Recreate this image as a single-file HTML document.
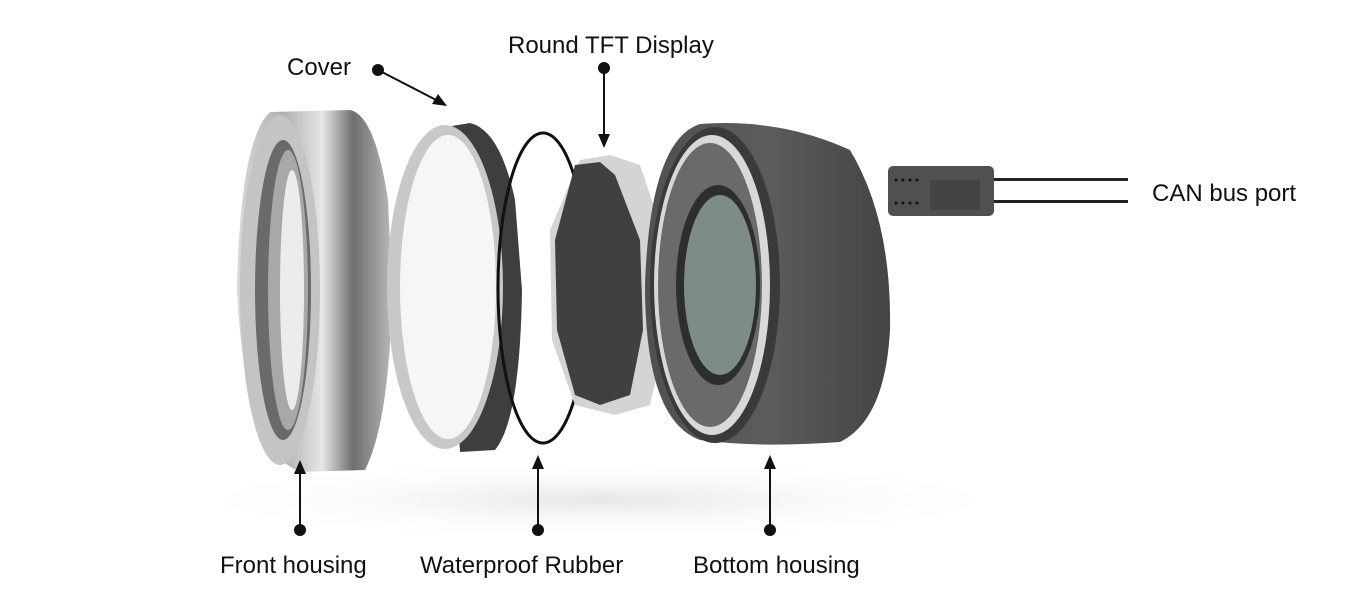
<!DOCTYPE html>
<html><head><style>
body{margin:0;background:#fff;width:1365px;height:600px;overflow:hidden}
svg{display:block}
text{font-family:"Liberation Sans",sans-serif;font-size:24px;fill:#111}
</style></head><body>
<svg width="1365" height="600" viewBox="0 0 1365 600">
<defs>
<linearGradient id="metal" x1="0" x2="1">
<stop offset="0" stop-color="#d8d8d8"/><stop offset=".3" stop-color="#b0b0b0"/><stop offset=".55" stop-color="#e6e6e6"/><stop offset=".75" stop-color="#6e6e6e"/><stop offset="1" stop-color="#b8b8b8"/>
</linearGradient>
<linearGradient id="dark" x1="0" x2="1">
<stop offset="0" stop-color="#505050"/><stop offset=".5" stop-color="#5c5c5c"/><stop offset="1" stop-color="#444"/>
</linearGradient>
<radialGradient id="shadow" cx=".5" cy=".5" r=".5">
<stop offset="0" stop-color="#e6e6e6"/><stop offset="1" stop-color="#fff" stop-opacity="0"/>
</radialGradient>
</defs>
<ellipse cx="600" cy="500" rx="430" ry="40" fill="url(#shadow)"/>
<!-- Front housing -->
<path d="M270 112 L350 110 Q375 115 388 200 L392 290 Q390 420 365 470 L300 472 Q245 450 237 290 Q240 140 270 112 Z" fill="url(#metal)"/>
<ellipse cx="280" cy="290" rx="40" ry="175" fill="#c4c4c4"/>
<ellipse cx="283" cy="290" rx="28" ry="150" fill="#6a6a6a"/>
<ellipse cx="288" cy="290" rx="20" ry="140" fill="#a8a8a8"/>
<ellipse cx="292" cy="290" rx="12" ry="120" fill="#ececec"/>
<!-- Cover -->
<path d="M440 128 L470 123 Q500 130 515 200 L522 290 Q520 420 495 450 L460 452 Z" fill="#3e3e3e"/>
<ellipse cx="445" cy="287" rx="58" ry="162" fill="#c8c8c8"/>
<ellipse cx="448" cy="287" rx="48" ry="152" fill="#f6f6f6"/>
<!-- Rubber -->
<ellipse cx="543" cy="288" rx="45" ry="155" fill="none" stroke="#111" stroke-width="3"/>
<!-- Display -->
<path d="M580 160 L610 155 L640 165 L662 230 L665 340 L650 405 L615 415 L575 405 L552 340 L550 230 Z" fill="#d4d4d4"/>
<path d="M575 165 L600 162 L615 175 L640 240 L643 330 L630 395 L600 405 L575 395 L557 330 L555 240 Z" fill="#404040"/>
<!-- Bottom housing -->
<path d="M700 124 Q780 118 850 150 Q892 220 890 330 Q885 420 840 442 Q760 448 700 440 Q645 420 645 285 Q650 140 700 124 Z" fill="url(#dark)"/>
<ellipse cx="715" cy="285" rx="65" ry="158" fill="#3a3a3a"/>
<ellipse cx="712" cy="285" rx="58" ry="150" fill="#d8d8d8"/>
<ellipse cx="710" cy="285" rx="52" ry="142" fill="#6a6a6a"/>
<ellipse cx="718" cy="285" rx="42" ry="100" fill="#2e2e2e"/>
<ellipse cx="720" cy="285" rx="36" ry="90" fill="#7d8c85"/>
<!-- Connector -->
<rect x="888" y="166" width="106" height="50" rx="5" fill="#505050"/>
<rect x="930" y="180" width="50" height="30" fill="#444"/>
<rect x="994" y="178" width="134" height="3" fill="#222"/>
<rect x="994" y="200" width="134" height="3" fill="#222"/>
<g fill="#111"><circle cx="896" cy="180" r="1.5"/><circle cx="903" cy="180" r="1.5"/><circle cx="910" cy="180" r="1.5"/><circle cx="917" cy="180" r="1.5"/><circle cx="896" cy="203" r="1.5"/><circle cx="903" cy="203" r="1.5"/><circle cx="910" cy="203" r="1.5"/><circle cx="917" cy="203" r="1.5"/></g>
<!-- Labels -->
<g stroke="#111" stroke-width="2" fill="#111">
<circle cx="378" cy="70" r="6" stroke="none"/><line x1="378" y1="70" x2="440" y2="102"/><polygon points="447,106 432,104 438,94" stroke="none"/>
<circle cx="604" cy="68" r="6" stroke="none"/><line x1="604" y1="68" x2="604" y2="138"/><polygon points="604,148 598,134 610,134" stroke="none"/>
<circle cx="300" cy="530" r="6" stroke="none"/><line x1="300" y1="530" x2="300" y2="470"/><polygon points="300,460 294,474 306,474" stroke="none"/>
<circle cx="538" cy="530" r="6" stroke="none"/><line x1="538" y1="530" x2="538" y2="465"/><polygon points="538,455 532,469 544,469" stroke="none"/>
<circle cx="770" cy="530" r="6" stroke="none"/><line x1="770" y1="530" x2="770" y2="465"/><polygon points="770,455 764,469 776,469" stroke="none"/>
</g>
<text x="287" y="75">Cover</text>
<text x="508" y="53">Round TFT Display</text>
<text x="1152" y="201">CAN bus port</text>
<text x="220" y="573">Front housing</text>
<text x="420" y="573">Waterproof Rubber</text>
<text x="693" y="573">Bottom housing</text>
</svg>
</body></html>
